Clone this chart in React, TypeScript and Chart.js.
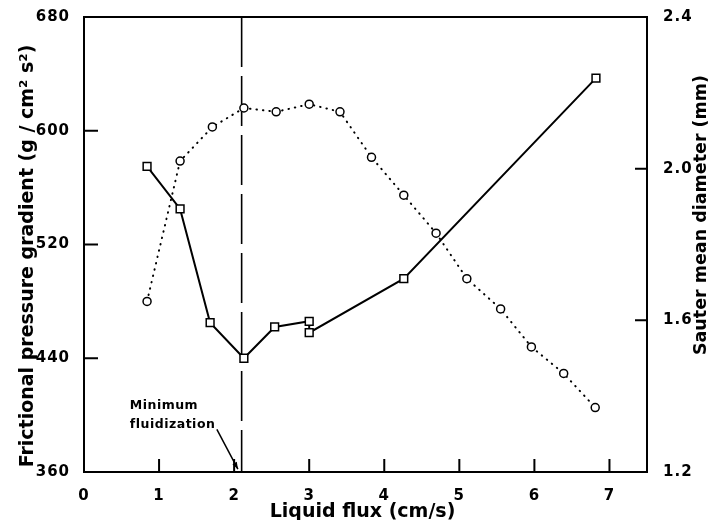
import React, { useEffect, useRef } from "react";
import { Chart, registerables } from "chart.js";

Chart.register(...registerables);

// Tick labels
const xTicks = [0, 1, 2, 3, 4, 5, 6, 7];
const pressureTicks = [360, 440, 520, 600, 680];
const diameterTicks = [1.2, 1.6, 2.0, 2.4];

// Frictional pressure gradient (squares, solid line)
const pressureFlux = [0.84, 1.28, 1.68, 2.13, 2.54, 3.0, 3.0, 4.26, 6.82];
const pressure = [575, 545, 465, 440, 462, 466, 458, 496, 637];

// Sauter mean diameter (circles, dotted line)
const diameterFlux = [0.84, 1.28, 1.71, 2.13, 2.56, 3.0, 3.41, 3.83, 4.26, 4.69, 5.1, 5.55, 5.96, 6.39, 6.81];
const diameter = [1.65, 2.02, 2.11, 2.16, 2.15, 2.17, 2.15, 2.03, 1.93, 1.83, 1.71, 1.63, 1.53, 1.46, 1.37];

// Annotation
const minFluidizationFlux = 2.1;
const annotationText = ["Minimum", "fluidization"];
const annotationTextFlux = 0.61;
const annotationTextPressure = [404, 391];
const arrowFrom = [1.77, 390];
const arrowTo = [2.05, 362];

const xTitle = "Liquid flux (cm/s)";
const leftTitle = "Frictional pressure gradient (g / cm\u00B2 s\u00B2)";
const rightTitle = "Sauter mean diameter (mm)";

const FAMILY = "'DejaVu Sans', sans-serif";

export default function App() {
  const ref = useRef<HTMLCanvasElement>(null);

  useEffect(() => {
    document.body.style.margin = "0";
    const canvas = ref.current;
    if (!canvas) return;

    const overlay = {
      id: "overlay",
      beforeLayout(chart: any) {
        chart.ctx.letterSpacing = "1px";
      },
      beforeDraw(chart: any) {
        chart.ctx.letterSpacing = "1px";
      },
      beforeDatasetsDraw(chart: any) {
        const ctx = chart.ctx;
        const { top, bottom } = chart.chartArea;
        const xs = chart.scales.x;
        const px = xs.getPixelForValue(minFluidizationFlux);
        ctx.save();
        ctx.strokeStyle = "#000";
        ctx.lineWidth = 1.6;
        ctx.setLineDash([50, 9]);
        ctx.beginPath();
        ctx.moveTo(px, top);
        ctx.lineTo(px, bottom);
        ctx.stroke();
        ctx.restore();
      },
      afterDraw(chart: any) {
        const ctx = chart.ctx;
        const { left, right, top, bottom } = chart.chartArea;
        const xs = chart.scales.x;
        const ys = chart.scales.y;
        const y2 = chart.scales.y2;
        ctx.save();
        ctx.letterSpacing = "0px";
        ctx.strokeStyle = "#000";
        ctx.fillStyle = "#000";
        ctx.lineWidth = 2;
        ctx.setLineDash([]);
        // frame
        ctx.strokeRect(left, top, right - left, bottom - top);
        // inward ticks
        ctx.beginPath();
        pressureTicks.forEach((v) => {
          if (v <= ys.min || v >= ys.max) return;
          const py = ys.getPixelForValue(v);
          ctx.moveTo(left, py);
          ctx.lineTo(left + 14, py);
        });
        diameterTicks.forEach((v) => {
          if (v <= y2.min || v >= y2.max) return;
          const py = y2.getPixelForValue(v);
          ctx.moveTo(right, py);
          ctx.lineTo(right - 12, py);
        });
        xTicks.forEach((v) => {
          if (v <= xs.min || v >= xs.max) return;
          const px = xs.getPixelForValue(v);
          ctx.moveTo(px, bottom);
          ctx.lineTo(px, bottom - 13);
        });
        ctx.stroke();

        // annotation arrow
        const ax0 = xs.getPixelForValue(arrowFrom[0]);
        const ay0 = ys.getPixelForValue(arrowFrom[1]);
        const ax1 = xs.getPixelForValue(arrowTo[0]);
        const ay1 = ys.getPixelForValue(arrowTo[1]);
        ctx.lineWidth = 1.5;
        ctx.beginPath();
        ctx.moveTo(ax0, ay0);
        ctx.lineTo(ax1, ay1);
        ctx.stroke();
        const ang = Math.atan2(ay1 - ay0, ax1 - ax0);
        const hl = 7;
        const hw = 2.5;
        ctx.beginPath();
        ctx.moveTo(ax1, ay1);
        ctx.lineTo(ax1 - hl * Math.cos(ang) + hw * Math.sin(ang), ay1 - hl * Math.sin(ang) - hw * Math.cos(ang));
        ctx.lineTo(ax1 - hl * Math.cos(ang) - hw * Math.sin(ang), ay1 - hl * Math.sin(ang) + hw * Math.cos(ang));
        ctx.closePath();
        ctx.fill();

        // annotation text
        ctx.font = `bold 12.5px ${FAMILY}`;
        ctx.textAlign = "left";
        ctx.textBaseline = "alphabetic";
        ctx.letterSpacing = "0.5px";
        annotationText.forEach((t, i) => {
          ctx.fillText(t, xs.getPixelForValue(annotationTextFlux), ys.getPixelForValue(annotationTextPressure[i]));
        });

        // axis titles
        ctx.letterSpacing = "0px";
        ctx.font = `bold 19px ${FAMILY}`;
        ctx.textAlign = "center";
        ctx.fillText(xTitle, (left + right) / 2 - 3, 516.5);

        ctx.save();
        ctx.translate(33, 256);
        ctx.rotate(-Math.PI / 2);
        ctx.fillText(leftTitle, 0, 0);
        ctx.restore();

        ctx.save();
        ctx.font = `bold 17.5px ${FAMILY}`;
        ctx.translate(706, 215);
        ctx.rotate(-Math.PI / 2);
        ctx.fillText(rightTitle, 0, 0);
        ctx.restore();

        ctx.restore();
      },
    };

    const tickFont = { family: FAMILY, size: 15, weight: "bold" as const };

    const chart = new Chart(canvas, {
      type: "line",
      data: {
        datasets: [
          {
            label: "Frictional pressure gradient",
            data: pressureFlux.map((x, i) => ({ x, y: pressure[i] })),
            yAxisID: "y",
            borderColor: "#000",
            borderWidth: 2,
            pointStyle: "rect",
            pointRadius: 5.5,
            pointBorderWidth: 1.5,
            pointBackgroundColor: "#fff",
            pointBorderColor: "#000",
            tension: 0,
            fill: false,
          },
          {
            label: "Sauter mean diameter",
            data: diameterFlux.map((x, i) => ({ x, y: diameter[i] })),
            yAxisID: "y2",
            borderColor: "#000",
            borderWidth: 2,
            borderDash: [0.5, 6],
            borderCapStyle: "round",
            pointStyle: "circle",
            pointRadius: 4,
            pointBorderWidth: 1.5,
            pointBackgroundColor: "#fff",
            pointBorderColor: "#000",
            tension: 0,
            fill: false,
          },
        ],
      },
      options: {
        responsive: false,
        animation: false,
        events: [],
        layout: { padding: { top: 17, left: 0, right: 0, bottom: 0 } },
        plugins: {
          legend: { display: false },
          tooltip: { enabled: false },
          title: { display: false },
        },
        scales: {
          x: {
            type: "linear",
            position: "bottom",
            min: 0,
            max: 7.5,
            grid: { display: false },
            border: { display: false },
            afterBuildTicks: (s: any) => {
              s.ticks = xTicks.map((value) => ({ value }));
            },
            afterFit: (s: any) => {
              s.height = 48;
            },
            ticks: {
              font: tickFont,
              color: "#000",
              padding: 7,
              maxRotation: 0,
              callback: (v: any) => String(v),
            },
          },
          y: {
            type: "linear",
            position: "left",
            min: 360,
            max: 680,
            grid: { display: false },
            border: { display: false },
            afterBuildTicks: (s: any) => {
              s.ticks = pressureTicks.map((value) => ({ value }));
            },
            afterFit: (s: any) => {
              s.width = 84;
            },
            ticks: {
              font: tickFont,
              color: "#000",
              padding: 6,
              callback: (v: any) => String(v),
            },
          },
          y2: {
            type: "linear",
            position: "right",
            min: 1.2,
            max: 2.4,
            grid: { display: false },
            border: { display: false },
            afterBuildTicks: (s: any) => {
              s.ticks = diameterTicks.map((value) => ({ value }));
            },
            afterFit: (s: any) => {
              s.width = 64;
            },
            ticks: {
              font: tickFont,
              color: "#000",
              padding: 8,
              callback: (v: any) => Number(v).toFixed(1),
            },
          },
        },
      },
      plugins: [overlay],
    });

    return () => chart.destroy();
  }, []);

  return (
    <div style={{ width: 711, height: 520 }}>
      <canvas ref={ref} width={711} height={520} style={{ display: "block" }} />
    </div>
  );
}
